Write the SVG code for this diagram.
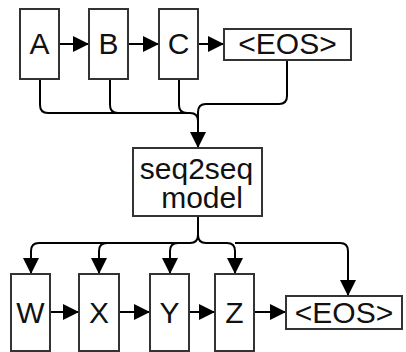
<svg xmlns="http://www.w3.org/2000/svg" width="406" height="352" viewBox="0 0 406 352">
  <defs>
    <marker id="arrow" markerUnits="userSpaceOnUse" markerWidth="17" markerHeight="17" refX="16" refY="8.5" orient="auto">
      <path d="M0,0.5 L16,8.5 L0,16.5 Z" fill="#000"/>
    </marker>
    <style>
      .box { fill: #fff; stroke: #333; stroke-width: 2; }
      .lbl { font-family: "Liberation Sans", Arial, sans-serif; font-size: 30px; fill: #111; text-anchor: middle; }
      .edge { fill: none; stroke: #000; stroke-width: 2; marker-end: url(#arrow); }
      .line { fill: none; stroke: #000; stroke-width: 2; }
    </style>
  </defs>

  <rect width="406" height="352" fill="#fff"/>

  <g id="connectors">
    <!-- input chain -->
    <path class="edge" d="M59,44 H89"/>
    <path class="edge" d="M128,44 H159"/>
    <path class="edge" d="M198,44 H224"/>
    <!-- inputs merging into the model -->
    <path class="line" d="M40,79 V105 Q40,113 48,113 H190 Q198,113 198,121"/>
    <path class="line" d="M110,79 V105 Q110,113 118,113"/>
    <path class="line" d="M179,79 V105 Q179,113 187,113"/>
    <path class="edge" d="M287,60 V96 Q287,104 279,104 H206 Q198,104 198,112 V148"/>
    <!-- model fanning out to outputs -->
    <path class="line" d="M198,216 V235"/>
    <path class="edge" d="M198,235 Q198,243 190,243 H39 Q31,243 31,251 V274"/>
    <path class="edge" d="M107,243 Q99,243 99,251 V274"/>
    <path class="edge" d="M178,243 Q170,243 170,251 V274"/>
    <path class="edge" d="M198,235 Q198,243 206,243 H227 Q235,243 235,251 V274"/>
    <path class="edge" d="M235,243 H340 Q348,243 348,251 V296"/>
    <!-- output chain -->
    <path class="edge" d="M50,312 H79"/>
    <path class="edge" d="M119,312 H150"/>
    <path class="edge" d="M189,312 H215"/>
    <path class="edge" d="M254,312 H286"/>
  </g>

  <g id="node-A"><rect class="box" x="20" y="9" width="39" height="70"/><text class="lbl" x="39.5" y="54">A</text></g>
  <g id="node-B"><rect class="box" x="89" y="9" width="39" height="70"/><text class="lbl" x="108.5" y="54">B</text></g>
  <g id="node-C"><rect class="box" x="159" y="9" width="39" height="70"/><text class="lbl" x="178.5" y="54">C</text></g>
  <g id="node-eos-in"><rect class="box" x="224" y="29" width="127" height="31"/><text class="lbl" x="287.5" y="54">&lt;EOS&gt;</text></g>

  <g id="node-model">
    <rect class="box" x="133" y="148" width="129" height="68"/>
    <text class="lbl" x="196.5" y="179">seq2seq</text>
    <text class="lbl" x="202" y="208">model</text>
  </g>

  <g id="node-W"><rect class="box" x="11" y="274" width="39" height="77"/><text class="lbl" x="30.5" y="323">W</text></g>
  <g id="node-X"><rect class="box" x="79" y="274" width="40" height="77"/><text class="lbl" x="99" y="323">X</text></g>
  <g id="node-Y"><rect class="box" x="150" y="274" width="39" height="77"/><text class="lbl" x="169.5" y="323">Y</text></g>
  <g id="node-Z"><rect class="box" x="215" y="274" width="39" height="77"/><text class="lbl" x="234.5" y="323">Z</text></g>
  <g id="node-eos-out"><rect class="box" x="286" y="296" width="116" height="33"/><text class="lbl" x="344" y="323">&lt;EOS&gt;</text></g>
</svg>
